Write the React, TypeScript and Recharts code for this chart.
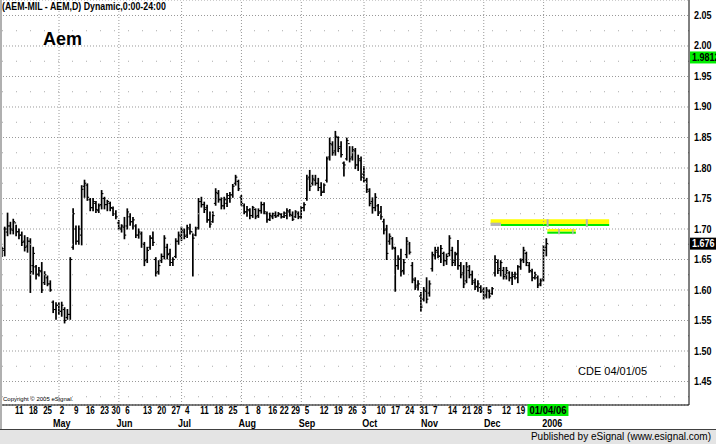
import React from "react";
import {
  ComposedChart,
  Bar,
  XAxis,
  YAxis,
  CartesianGrid,
  ReferenceLine,
  ReferenceArea,
} from "recharts";

// daily OHLC, AEM (Milan), Apr 2005 - 4 Jan 2006
const highs = [
  1.670, 1.703, 1.726, 1.711, 1.716, 1.706, 1.700, 1.695, 1.689, 1.686,
  1.684, 1.670, 1.640, 1.637, 1.645, 1.630, 1.623, 1.615, 1.582, 1.579,
  1.579, 1.580, 1.571, 1.568, 1.653, 1.733, 1.705, 1.705, 1.771, 1.780,
  1.774, 1.750, 1.750, 1.745, 1.741, 1.763, 1.752, 1.747, 1.744, 1.736,
  1.730, 1.714, 1.707, 1.719, 1.733, 1.725, 1.719, 1.707, 1.700, 1.695,
  1.678, 1.670, 1.689, 1.695, 1.653, 1.648, 1.659, 1.689, 1.675, 1.667,
  1.653, 1.684, 1.695, 1.703, 1.700, 1.706, 1.708, 1.692, 1.703, 1.750,
  1.752, 1.744, 1.739, 1.728, 1.728, 1.766, 1.763, 1.751, 1.752, 1.758,
  1.760, 1.773, 1.788, 1.780, 1.755, 1.741, 1.737, 1.733, 1.737, 1.733,
  1.733, 1.744, 1.743, 1.728, 1.726, 1.726, 1.728, 1.727, 1.725, 1.728,
  1.733, 1.732, 1.728, 1.730, 1.728, 1.737, 1.743, 1.788, 1.796, 1.788,
  1.788, 1.783, 1.776, 1.774, 1.818, 1.849, 1.843, 1.860, 1.851, 1.843,
  1.810, 1.849, 1.835, 1.835, 1.832, 1.821, 1.818, 1.802, 1.783, 1.766,
  1.751, 1.758, 1.740, 1.737, 1.716, 1.706, 1.692, 1.686, 1.670, 1.656,
  1.667, 1.650, 1.686, 1.678, 1.645, 1.620, 1.615, 1.596, 1.604, 1.620,
  1.615, 1.662, 1.670, 1.670, 1.673, 1.662, 1.659, 1.689, 1.670, 1.662,
  1.681, 1.645, 1.640, 1.645, 1.640, 1.631, 1.618, 1.615, 1.607, 1.604,
  1.604, 1.600, 1.604, 1.656, 1.649, 1.648, 1.637, 1.637, 1.630, 1.629,
  1.629, 1.640, 1.651, 1.670, 1.662, 1.645, 1.634, 1.629, 1.623, 1.618,
  1.673, 1.684,
];
const lows = [
  1.655, 1.656, 1.689, 1.692, 1.692, 1.689, 1.684, 1.673, 1.664, 1.662,
  1.596, 1.626, 1.618, 1.623, 1.596, 1.609, 1.607, 1.598, 1.563, 1.552,
  1.560, 1.557, 1.546, 1.552, 1.552, 1.667, 1.675, 1.675, 1.674, 1.752,
  1.747, 1.730, 1.730, 1.727, 1.727, 1.733, 1.733, 1.730, 1.730, 1.722,
  1.717, 1.700, 1.695, 1.684, 1.700, 1.706, 1.700, 1.686, 1.685, 1.670,
  1.640, 1.645, 1.667, 1.673, 1.623, 1.626, 1.645, 1.651, 1.651, 1.640,
  1.640, 1.653, 1.675, 1.681, 1.684, 1.686, 1.692, 1.623, 1.689, 1.700,
  1.736, 1.727, 1.711, 1.703, 1.711, 1.739, 1.744, 1.733, 1.733, 1.737,
  1.744, 1.752, 1.772, 1.763, 1.739, 1.725, 1.721, 1.717, 1.719, 1.717,
  1.719, 1.726, 1.725, 1.711, 1.714, 1.717, 1.719, 1.721, 1.718, 1.719,
  1.717, 1.721, 1.714, 1.719, 1.717, 1.717, 1.730, 1.747, 1.763, 1.772,
  1.772, 1.763, 1.755, 1.760, 1.777, 1.813, 1.821, 1.821, 1.827, 1.818,
  1.787, 1.813, 1.810, 1.813, 1.799, 1.796, 1.780, 1.777, 1.760, 1.738,
  1.726, 1.730, 1.722, 1.716, 1.692, 1.650, 1.675, 1.667, 1.598, 1.634,
  1.623, 1.626, 1.653, 1.659, 1.612, 1.601, 1.600, 1.565, 1.582, 1.579,
  1.590, 1.631, 1.651, 1.653, 1.645, 1.640, 1.642, 1.656, 1.640, 1.640,
  1.634, 1.620, 1.604, 1.612, 1.620, 1.609, 1.601, 1.598, 1.596, 1.585,
  1.587, 1.587, 1.593, 1.623, 1.627, 1.623, 1.618, 1.618, 1.615, 1.609,
  1.618, 1.612, 1.634, 1.645, 1.640, 1.629, 1.615, 1.618, 1.604, 1.607,
  1.615, 1.656,
];
const opens = [
  1.660, 1.665, 1.695, 1.705, 1.698, 1.710, 1.696, 1.690, 1.680, 1.672,
  1.680, 1.640, 1.638, 1.626, 1.630, 1.612, 1.620, 1.610, 1.580, 1.568,
  1.575, 1.565, 1.568, 1.555, 1.560, 1.670, 1.700, 1.680, 1.690, 1.770,
  1.772, 1.748, 1.735, 1.742, 1.730, 1.740, 1.750, 1.740, 1.742, 1.734,
  1.725, 1.710, 1.700, 1.703, 1.705, 1.720, 1.712, 1.705, 1.690, 1.692,
  1.675, 1.650, 1.670, 1.685, 1.650, 1.630, 1.648, 1.655, 1.670, 1.660,
  1.645, 1.655, 1.680, 1.688, 1.695, 1.690, 1.700, 1.695, 1.690, 1.702,
  1.745, 1.740, 1.735, 1.715, 1.712, 1.742, 1.758, 1.748, 1.738, 1.742,
  1.750, 1.756, 1.775, 1.778, 1.752, 1.738, 1.728, 1.730, 1.722, 1.732,
  1.722, 1.730, 1.740, 1.725, 1.716, 1.720, 1.722, 1.722, 1.724, 1.720,
  1.722, 1.728, 1.722, 1.720, 1.725, 1.720, 1.735, 1.750, 1.785, 1.775,
  1.780, 1.775, 1.768, 1.762, 1.780, 1.818, 1.838, 1.828, 1.850, 1.835,
  1.808, 1.815, 1.840, 1.818, 1.828, 1.805, 1.812, 1.790, 1.780, 1.762,
  1.745, 1.735, 1.738, 1.728, 1.712, 1.700, 1.680, 1.684, 1.668, 1.640,
  1.652, 1.632, 1.658, 1.675, 1.640, 1.616, 1.608, 1.590, 1.585, 1.598,
  1.595, 1.635, 1.656, 1.662, 1.655, 1.660, 1.648, 1.660, 1.665, 1.648,
  1.660, 1.640, 1.628, 1.615, 1.632, 1.625, 1.612, 1.606, 1.604, 1.600,
  1.592, 1.598, 1.594, 1.628, 1.645, 1.635, 1.632, 1.625, 1.628, 1.620,
  1.622, 1.620, 1.638, 1.650, 1.660, 1.640, 1.630, 1.620, 1.620, 1.610,
  1.618, 1.670,
];
const closes = [
  1.668, 1.700, 1.705, 1.700, 1.712, 1.695, 1.690, 1.678, 1.670, 1.680,
  1.630, 1.660, 1.625, 1.632, 1.600, 1.625, 1.610, 1.600, 1.568, 1.575,
  1.565, 1.575, 1.550, 1.560, 1.650, 1.725, 1.680, 1.700, 1.765, 1.775,
  1.752, 1.735, 1.745, 1.732, 1.738, 1.758, 1.740, 1.745, 1.735, 1.725,
  1.720, 1.702, 1.705, 1.690, 1.728, 1.712, 1.715, 1.690, 1.695, 1.675,
  1.648, 1.665, 1.685, 1.678, 1.628, 1.640, 1.655, 1.685, 1.658, 1.645,
  1.650, 1.680, 1.690, 1.698, 1.688, 1.702, 1.696, 1.685, 1.700, 1.745,
  1.740, 1.732, 1.715, 1.708, 1.722, 1.760, 1.748, 1.738, 1.748, 1.755,
  1.756, 1.770, 1.785, 1.766, 1.742, 1.728, 1.732, 1.722, 1.735, 1.720,
  1.730, 1.740, 1.728, 1.715, 1.722, 1.725, 1.720, 1.725, 1.720, 1.726,
  1.730, 1.724, 1.716, 1.728, 1.720, 1.735, 1.740, 1.782, 1.770, 1.782,
  1.775, 1.768, 1.760, 1.772, 1.815, 1.840, 1.825, 1.852, 1.832, 1.822,
  1.805, 1.845, 1.815, 1.830, 1.805, 1.815, 1.785, 1.780, 1.765, 1.742,
  1.735, 1.752, 1.726, 1.720, 1.698, 1.660, 1.688, 1.670, 1.640, 1.650,
  1.630, 1.645, 1.680, 1.662, 1.618, 1.605, 1.610, 1.572, 1.600, 1.585,
  1.610, 1.658, 1.665, 1.656, 1.668, 1.648, 1.655, 1.685, 1.645, 1.658,
  1.640, 1.625, 1.610, 1.638, 1.625, 1.615, 1.605, 1.610, 1.598, 1.590,
  1.600, 1.590, 1.602, 1.650, 1.632, 1.645, 1.622, 1.632, 1.620, 1.625,
  1.626, 1.638, 1.648, 1.665, 1.645, 1.632, 1.620, 1.625, 1.608, 1.615,
  1.665, 1.676,
];

// bar index -> weekly date label / month label
const dayTicks: [number, string][] = [
  [6, "11"], [11, "18"], [16, "25"], [21, "2"], [26, "9"], [31, "16"], [36, "23"],
  [40, "30"], [44, "6"], [51, "13"], [56, "20"], [61, "27"], [65, "4"], [71, "11"],
  [76, "18"], [81, "25"], [86, "1"], [90, "8"], [95, "16"], [99, "22"], [103, "29"],
  [107, "5"], [113, "12"], [118, "19"], [123, "26"], [127, "3"], [133, "10"],
  [138, "17"], [143, "24"], [148, "31"], [152, "7"], [158, "14"], [163, "21"],
  [167, "28"], [171, "5"], [177, "12"], [182, "19"], [191, "01/04/06"],
];
const monthTicks: [number, string][] = [
  [21, "May"], [43, "Jun"], [64, "Jul"], [86, "Aug"], [107, "Sep"],
  [129, "Oct"], [150, "Nov"], [172, "Dec"], [193, "2006"],
];
const monthStarts = [20, 41, 63, 84, 105, 127, 147, 169, 190];

const priceTicks = [1.45, 1.5, 1.55, 1.6, 1.65, 1.7, 1.75, 1.8, 1.85, 1.9, 1.95, 2.0, 2.05];
const halfTicks = [1.425, 1.475, 1.525, 1.575, 1.625, 1.675, 1.725, 1.775, 1.825, 1.875, 1.925, 1.975, 2.025];

const lastPrice = 1.676;
const topTag = 1.9812;

// target zones drawn by eSignal
const yellowZones = [
  { x1: 171.4, x2: 213.0, y1: 1.7083, y2: 1.716 },
  { x1: 191.3, x2: 201.3, y1: 1.6956, y2: 1.7001 },
];
const greenZones = [
  { x1: 175.0, x2: 213.0, y1: 1.705, y2: 1.7083 },
  { x1: 191.3, x2: 201.3, y1: 1.6923, y2: 1.6956 },
];
const grayZones = [
  { x1: 171.4, x2: 175.0, y1: 1.705, y2: 1.7104 },
  { x1: 191.05, x2: 191.75, y1: 1.7033, y2: 1.716 },
  { x1: 204.8, x2: 205.5, y1: 1.7033, y2: 1.716 },
  { x1: 195.1, x2: 195.7, y1: 1.6914, y2: 1.7001 },
  { x1: 200.0, x2: 200.5, y1: 1.6914, y2: 1.7001 },
];

const data = highs.map((h, i) => ({
  i,
  range: [lows[i], h],
  h,
  l: lows[i],
  o: opens[i],
  c: closes[i],
}));

const SANS = "'Liberation Sans', Arial, sans-serif";

const dayMap = new Map(dayTicks);
const monthMap = new Map(monthTicks);

// eSignal uses a narrow bold bitmap font; squeeze Liberation Sans to match
function NarrowText({ x, y, sx, anchor = "middle", fill = "#000", children }: any) {
  return (
    <text
      transform={`translate(${x},${y}) scale(${sx},1)`}
      textAnchor={anchor}
      fontFamily={SANS}
      fontWeight="bold"
      fontSize={10}
      fill={fill}
    >
      {children}
    </text>
  );
}

function OhlcShape(props: any) {
  const { x, y, width, height, payload } = props;
  if (x == null || y == null) return null;
  const top = Math.min(y, y + height);
  const span = Math.abs(height);
  const cx = x + width / 2;
  const range = payload.h - payload.l || 1;
  const yo = top + ((payload.h - payload.o) / range) * span;
  const yc = top + ((payload.h - payload.c) / range) * span;
  return (
    <g stroke="#000">
      <line x1={cx} x2={cx} y1={top - 0.5} y2={top + span + 0.5} strokeWidth={1.7} />
      <line x1={cx - 1.8} x2={cx} y1={yo} y2={yo} strokeWidth={1.1} />
      <line x1={cx} x2={cx + 1.8} y1={yc} y2={yc} strokeWidth={1.1} />
    </g>
  );
}

function DayTick(props: any) {
  const { x, y, payload } = props;
  const label = dayMap.get(payload.value) ?? "";
  const isLast = label === "01/04/06";
  return (
    <g>
      {isLast && <rect x={x - 19} y={y - 1} width={41} height={12} fill="#00ee00" />}
      <NarrowText x={isLast ? x + 1.5 : x} y={y + 9} sx={isLast ? 0.95 : 0.8}>
        {label}
      </NarrowText>
    </g>
  );
}

function MonthTick(props: any) {
  const { x, y, payload } = props;
  return (
    <NarrowText x={x} y={y + 9} sx={0.9}>
      {monthMap.get(payload.value) ?? ""}
    </NarrowText>
  );
}

function PriceTick(props: any) {
  const { x, y, payload } = props;
  return (
    <NarrowText x={x + 5} y={y + 3.5} sx={0.9} anchor="start">
      {payload.value.toFixed(2)}
    </NarrowText>
  );
}

function PriceTag({ viewBox, text, bg, fg }: any) {
  if (!viewBox) return null;
  const px = viewBox.x + viewBox.width + 1;
  return (
    <g>
      <rect x={px} y={viewBox.y - 6} width={32} height={12} fill={bg} />
      <NarrowText x={px + 2} y={viewBox.y + 3.5} sx={0.9} anchor="start" fill={fg}>
        {text}
      </NarrowText>
    </g>
  );
}

export default function App() {
  return (
    <div style={{ position: "absolute", left: 0, top: 0, width: 716, height: 444, background: "#fff", overflow: "hidden" }}>
      <ComposedChart
        width={716}
        height={430}
        data={data}
        margin={{ top: 0, right: 0, bottom: 0, left: 0 }}
      >
        <CartesianGrid horizontal vertical={false} stroke="#999" strokeDasharray="1 2" />
        {halfTicks.map((p) => (
          <ReferenceLine key={`h${p}`} y={p} xAxisId="day" stroke="#aaa" strokeDasharray="1 13" ifOverflow="hidden" />
        ))}
        {monthStarts.map((m) => (
          <ReferenceLine key={`m${m}`} x={m} xAxisId="day" stroke="#999" strokeDasharray="1 2" />
        ))}
        <XAxis
          xAxisId="day"
          dataKey="i"
          type="number"
          domain={[-0.7, 241]}
          ticks={dayTicks.map((t) => t[0])}
          interval={0}
          height={13}
          tickSize={0}
          tickMargin={0}
          tick={<DayTick />}
          axisLine={{ stroke: "#000", strokeWidth: 1 }}
          allowDataOverflow
        />
        <XAxis
          xAxisId="month"
          dataKey="i"
          type="number"
          domain={[-0.7, 241]}
          ticks={monthTicks.map((t) => t[0])}
          interval={0}
          height={12}
          tickSize={0}
          tickMargin={0}
          tick={<MonthTick />}
          axisLine={false}
          allowDataOverflow
        />
        <YAxis
          orientation="right"
          type="number"
          domain={[1.4115, 2.0754]}
          ticks={priceTicks}
          interval={0}
          width={27}
          tickSize={0}
          tickMargin={0}
          tick={<PriceTick />}
          axisLine={{ stroke: "#000", strokeWidth: 1 }}
          allowDataOverflow
        />
        {yellowZones.map((z, k) => (
          <ReferenceArea key={`y${k}`} xAxisId="day" {...z} fill="#ffff00" fillOpacity={1} stroke="none" />
        ))}
        {greenZones.map((z, k) => (
          <ReferenceArea key={`g${k}`} xAxisId="day" {...z} fill="#00e600" fillOpacity={1} stroke="none" />
        ))}
        {grayZones.map((z, k) => (
          <ReferenceArea key={`s${k}`} xAxisId="day" {...z} fill="#b4b4b4" fillOpacity={1} stroke="none" />
        ))}
        <Bar
          xAxisId="day"
          dataKey="range"
          barSize={3}
          shape={<OhlcShape />}
          isAnimationActive={false}
        />
        <ReferenceLine
          y={topTag}
          xAxisId="day"
          stroke="none"
          label={<PriceTag text="1.9812" bg="#00ee00" fg="#000" />}
        />
        <ReferenceLine
          y={lastPrice}
          xAxisId="day"
          stroke="none"
          label={<PriceTag text="1.676" bg="#000" fg="#fff" />}
        />
      </ComposedChart>

      <div style={{ position: "absolute", left: 0, top: 0, width: 2, height: 430, background: "#b0b0b0" }} />
      <div
        style={{
          position: "absolute",
          left: 2,
          top: 1,
          fontFamily: SANS,
          fontWeight: "bold",
          fontSize: 10,
          lineHeight: "12px",
          whiteSpace: "nowrap",
          transform: "scaleX(0.88)",
          transformOrigin: "left top",
        }}
      >
        (AEM-MIL - AEM,D) Dynamic,0:00-24:00
      </div>
      <div style={{ position: "absolute", left: 43, top: 30, fontFamily: SANS, fontWeight: "bold", fontSize: 18, lineHeight: "18px" }}>
        Aem
      </div>
      <div style={{ position: "absolute", left: 578, top: 366, fontFamily: SANS, fontSize: 11, lineHeight: "11px" }}>
        CDE 04/01/05
      </div>
      <div style={{ position: "absolute", left: 3, top: 396, fontFamily: SANS, fontSize: 6, lineHeight: "7px", whiteSpace: "nowrap" }}>
        Copyright © 2005 eSignal.
      </div>
      <div
        style={{
          position: "absolute",
          left: 0,
          top: 429,
          width: 716,
          height: 15,
          background: "#e4e4e4",
          borderTop: "1px solid #404040",
          boxSizing: "border-box",
          fontFamily: SANS,
          fontSize: 10,
          lineHeight: "14px",
          textAlign: "right",
          paddingRight: 5,
        }}
      >
        Published by eSignal (www.esignal.com)
      </div>
    </div>
  );
}
